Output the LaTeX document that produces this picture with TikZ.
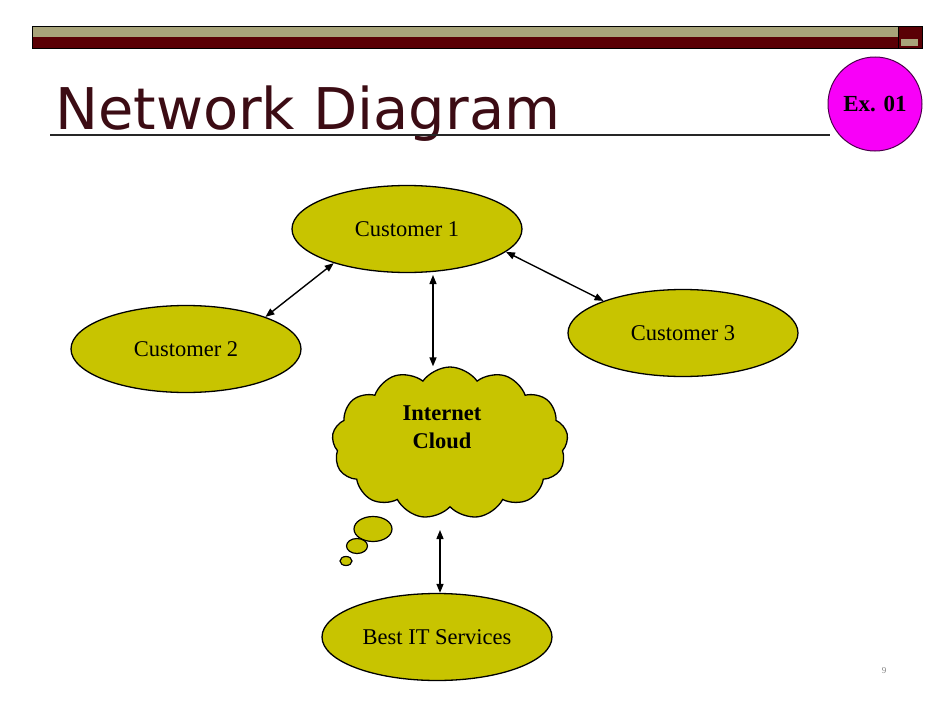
\documentclass[tikz,border=0pt]{standalone}
\usepackage{fontspec}
\setmainfont{Liberation Serif}
\newfontfamily\titlefont{DejaVu Sans}
\usetikzlibrary{shapes.geometric,shapes.symbols,arrows.meta,calc}
\definecolor{khaki}{HTML}{A8A47A}
\definecolor{darkred}{HTML}{5A0005}
\definecolor{titlecol}{HTML}{3C0C14}
\definecolor{nodefill}{HTML}{C8C400}
\definecolor{magentaball}{HTML}{F800F8}
\begin{document}
\begin{tikzpicture}[x=1pt,y=-1pt,
  cust/.style={ellipse,draw=black,line width=1.3pt,fill=nodefill,minimum width=230pt,minimum height=87pt,inner sep=0pt,font=\fontsize{22.5}{24}\selectfont},
  link/.style={line width=1.4pt,{Triangle[length=9pt,width=7pt]}-{Triangle[length=9pt,width=7pt]}},
  bubble/.style={ellipse,draw=black,line width=1.2pt,fill=nodefill,inner sep=0pt}]
\useasboundingbox[fill=white] (0,0) rectangle (946,720);
% top bar
\path[fill=khaki] (32,26) rectangle (898,37);
\path[fill=darkred] (32,37) rectangle (898,48);
\path[fill=darkred] (898,26) rectangle (922,48);
\path[fill=khaki] (901,39) rectangle (918,46);
\draw[line width=1pt] (32,26) rectangle (922,48);
\draw[line width=0.6pt] (898,26) -- (898,48);
% title
\node[anchor=base west,inner sep=0pt,text=titlecol,font=\titlefont\fontsize{57.5}{60}\selectfont] (title) at (55,129) {Network Diagram};
\draw[line width=2pt,black!85] (50,135) -- (830,135);
\node[circle,draw=black!70!magentaball,line width=1pt,fill=magentaball,minimum size=94pt,inner sep=0pt,font=\bfseries\fontsize{23}{24}\selectfont] (ex) at (875,104) {Ex. 01};
% nodes
\node[cust] (c1) at (407,229) {Customer 1};
\node[cust] (c2) at (186,349) {Customer 2};
\node[cust] (c3) at (683,333) {Customer 3};
\node[cust] (bit) at (437,637) {Best IT Services};
\node[cloud,cloud puffs=13,cloud puff arc=110,aspect=1.6,draw=black,line width=1.3pt,fill=nodefill,minimum width=236pt,minimum height=152pt,inner sep=0pt] (cloud) at (450,443) {};
\node[bubble,minimum width=38pt,minimum height=25pt] (b1) at (373,529) {};
\node[bubble,minimum width=21pt,minimum height=15pt] (b2) at (357,546) {};
\node[bubble,minimum width=12pt,minimum height=9pt] (b3) at (346,561) {};
\node[align=center,font=\bfseries\fontsize{22.5}{28}\selectfont] (ctext) at (442,427) {Internet\\Cloud};
% connectors
\draw[link] (c1.205) -- (c2.22);
\draw[link] (c1.-13) -- (c3.158);
\coordinate (ca) at (433,275);
\draw[link] (ca) -- (ca |- cloud.north);
\coordinate (cb) at (440,530);
\draw[link] (cb) -- (cb |- bit.north);
% page number
\node[text=gray,font=\fontsize{9}{10}\selectfont] (pg) at (884,671) {9};
\end{tikzpicture}
\end{document}
